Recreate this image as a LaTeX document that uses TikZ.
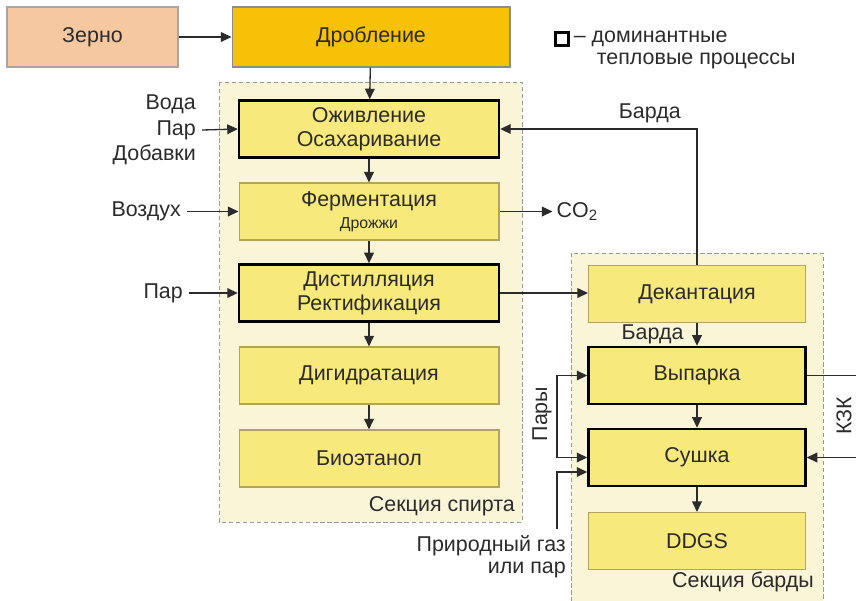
\documentclass[tikz,border=0pt]{standalone}
\usepackage{fontspec}
\setmainfont{Liberation Sans}
\usetikzlibrary{arrows.meta}
\definecolor{zerno}{HTML}{F5C8A0}
\definecolor{drob}{HTML}{F7C108}
\definecolor{proc}{HTML}{F8E97C}
\definecolor{sect}{HTML}{FBF5D8}
\definecolor{edge}{HTML}{B3A35C}
\definecolor{ink}{HTML}{2B2B2B}

\begin{document}
\begin{tikzpicture}[x=0.02cm, y=-0.02cm,
    every node/.style={font=\fontsize{12.2}{13.5}\selectfont, text=ink},
    box/.style={draw=edge, line width=0.6pt, fill=proc, minimum width=5.2cm, minimum height=1.14cm, align=center, inner sep=0pt},
    sbox/.style={box, minimum width=4.34cm},
    hot/.style={draw=black, line width=1.4pt},
    arr/.style={-{Triangle[length=6pt,width=5.5pt]}, line width=0.75pt, draw=ink},
    sectbox/.style={draw=black!40, dash pattern=on 2.5pt off 1.5pt, fill=sect, line width=0.5pt}]
    \useasboundingbox (0,0) rectangle (856,600);
    \draw[sectbox] (219,82) rectangle (522,522);
    \draw[sectbox] (571,253) rectangle (823,602);
    \node[anchor=east] (spirt) at (521,506) {Секция спирта};
    \node[anchor=east] (barda) at (820,582) {Секция барды};

    \node[box, fill=zerno, draw=black!35, minimum width=3.42cm, minimum height=1.2cm] (zerno) at (92.5,37) {Зерно};
    \node[box, fill=drob, draw=black!45, minimum width=5.56cm, minimum height=1.2cm] (drob) at (371,37) {Дробление};
    \node[box, hot] (ozhiv) at (369,129) {Оживление\\Осахаривание};
    \node[box] (ferm) at (369,211.5) {Ферментация\\[-1pt]{\fontsize{9}{10}\selectfont Дрожжи}};
    \node[box, hot] (dist) at (369,293) {Дистилляция\\Ректификация};
    \node[box] (degid) at (369,375.5) {Дигидратация};
    \node[box] (bioet) at (369,458.5) {Биоэтанол};
    \node[sbox] (dekant) at (697,294) {Декантация};
    \node[sbox, hot] (vypar) at (697,375.5) {Выпарка};
    \node[sbox, hot] (sush) at (697,457.5) {Сушка};
    \node[sbox] (ddgs) at (697,541) {DDGS};

    \node[draw, line width=1.2pt, minimum size=0.26cm, inner sep=0pt] (leg) at (562,39) {};
    \node[anchor=west, inner sep=2pt] (legt1) at (570,39) {– доминантные};
    \node[anchor=west, inner sep=2pt] (legt2) at (593,61) {тепловые процессы};

    \node[anchor=east, align=right] (voda) at (202,130) {Вода\\[1pt]Пар\\[1pt]Добавки};
    \node[anchor=east] (vozd) at (187,211.5) {Воздух};
    \node[anchor=east] (par) at (189,293) {Пар};
    \node[anchor=north east, align=right] (gaz) at (572,529) {Природный газ\\[-1pt]или пар};
    \node[rotate=90] (paryt) at (542,414) {Пары};
    \node[rotate=90] (kzk) at (844,416) {КЗК};

    \coordinate (pary) at (557,416);
    \coordinate (gazup) at (557,529);
    \coordinate (kzk1) at (857,375.5);
    \coordinate (kzk2) at (857,457.5);

    \draw[arr] (zerno) -- (drob);
    \draw[arr] (drob) -- (ozhiv);
    \draw[arr] (ozhiv) -- (ferm);
    \draw[arr] (ferm) -- (dist);
    \draw[arr] (dist) -- (degid);
    \draw[arr] (degid) -- (bioet);
    \draw[arr] (voda.east) -- (ozhiv.west);
    \draw[arr] (vozd.east) -- (ferm.west);
    \draw[arr] (par.east) -- (dist.west);
    \draw[arr] (ferm.east) -- ++(53,0) node[right, inner sep=2pt] (co2) {CO\textsubscript{2}};
    \draw[arr] (dist.east) -- (dist.east -| dekant.west);
    \draw[arr] (dekant.north) |- (ozhiv.east) node[pos=0.62, above] (bardat) {Барда};
    \draw[arr] (dekant) -- (vypar) node[midway, left=4pt] (bardat2) {Барда};
    \draw[arr] (vypar) -- (sush);
    \draw[arr] (sush) -- (ddgs);
    \draw[arr] (pary) |- (vypar.west);
    \draw[arr] (pary) |- (sush.west);
    \draw[arr] (gazup) |- ([yshift=-0.29cm]sush.west);
    \draw[line width=0.75pt, draw=ink] (vypar.east) -- (kzk1);
    \draw[arr] (kzk2) -- (sush.east);
\end{tikzpicture}
\end{document}
